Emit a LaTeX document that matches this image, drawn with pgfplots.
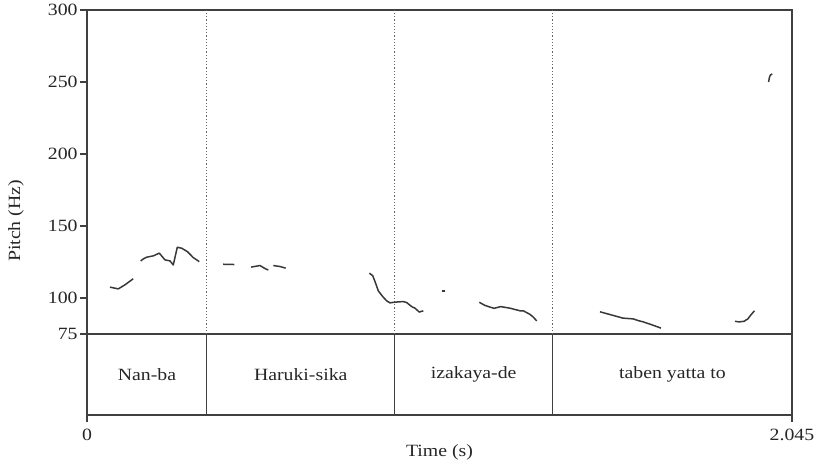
\documentclass[border=0pt]{standalone}
\usepackage{fontspec}
\setmainfont{Liberation Serif}[FakeStretch=1.15]
\usepackage{pgfplots}
\pgfplotsset{compat=1.18}
\definecolor{frame}{HTML}{404040}
\definecolor{curve}{HTML}{383838}
\newcommand{\lblfont}{\fontsize{8.6}{10}\selectfont}
\begin{document}
\begin{tikzpicture}
\useasboundingbox (-43.5pt,-25pt) rectangle (367pt,207.5pt);
\begin{axis}[
  at={(0,0)}, anchor=south west,
  scale only axis, width=352.5pt, height=202.5pt,
  xmin=0, xmax=2.045, ymin=19, ymax=300,
  axis line style={frame, line width=0.8pt},
  tick style={frame, line width=0.8pt},
  tick align=outside, major tick length=3.5pt,
  tick pos=left,
  ytick={75,100,150,200,250,300},
  xtick={0,2.045}, xticklabels={0,2.045},
  /pgf/number format/assume math mode=true,
  ticklabel style={font=\lblfont, text=black!85},
  yticklabel style={inner xsep=1pt},
  label style={font=\lblfont, text=black!85},
  xlabel={Time (s)},
  ylabel={Pitch (Hz)},
  xlabel style={at={(axis description cs:0.5,-0.0914)}, anchor=center},
  ylabel style={at={(axis description cs:-0.1007,0.479)}, anchor=center, rotate=0},
  clip=false,
  curv/.style={curve, line width=0.75pt, no markers, line join=round},
  bnd/.style={frame!80, line width=0.6pt, densely dotted, no markers},
  bnds/.style={frame, line width=0.6pt, no markers},
]
% tier line
\addplot[bnds, line width=0.8pt] coordinates {(0,75) (2.045,75)};
% boundaries
\addplot[bnd] coordinates {(0.3475,75) (0.3475,300)};
\addplot[bnd] coordinates {(0.892,75) (0.892,300)};
\addplot[bnd] coordinates {(1.351,75) (1.351,300)};
\addplot[bnds] coordinates {(0.3475,19) (0.3475,75)};
\addplot[bnds] coordinates {(0.892,19) (0.892,75)};
\addplot[bnds] coordinates {(1.351,19) (1.351,75)};
% pitch
\addplot[curv] coordinates {(0.0667,107.7) (0.0908,106.5) (0.110,109.3) (0.134,113.5)};
\addplot[curv] coordinates {(0.1558,125.9) (0.1633,127.3) (0.1732,128.5) (0.1923,129.4) (0.2097,131.3) (0.2263,126.6) (0.2408,125.9) (0.2503,123.1) (0.2619,135.4) (0.2747,134.7) (0.2909,132.4) (0.3083,128.2) (0.3258,125.4)};
\addplot[curv] coordinates {(0.395,123.6) (0.4272,123.4)};
\addplot[curv] coordinates {(0.4757,121.6) (0.5018,122.7) (0.5163,120.6) (0.5259,119.6)};
\addplot[curv] coordinates {(0.5404,122.7) (0.5598,122.0) (0.5764,120.9)};
\addplot[curv] coordinates {(0.8189,117.4) (0.8287,115.7) (0.8354,111.6) (0.845,105.1) (0.8577,101.2) (0.8693,98.2) (0.8789,96.8) (0.8934,97.3) (0.9175,97.7) (0.9274,97.0) (0.9419,94.2) (0.9515,93.1) (0.9639,90.4) (0.9755,91.3)};
\addplot[curv] coordinates {(1.0289,104.9) (1.0385,104.9)};
\addplot[curv] coordinates {(1.138,97.2) (1.1545,95.0) (1.1806,93.0) (1.2,94.2) (1.227,93.1) (1.256,91.3) (1.2656,91.3) (1.285,88.8) (1.2946,86.9) (1.3045,84.3)};
\addplot[curv] coordinates {(1.488,90.6) (1.52,88.5) (1.5548,86.2) (1.5838,85.7) (1.599,84.5) (1.6137,83.6) (1.638,81.6) (1.665,79.3)};
\addplot[curv] coordinates {(1.8797,84.0) (1.8913,83.6) (1.906,84.0) (1.917,85.7) (1.926,88.5) (1.936,91.3)};
\addplot[curv] coordinates {(1.977,250.0) (1.980,253.6) (1.983,255.0) (1.988,255.6)};
% tier labels
\node[font=\lblfont, text=black!85] at (axis cs:0.174,46.9) {Nan-ba};
\node[font=\lblfont, text=black!85] at (axis cs:0.620,46.9) {Haruki-sika};
\node[font=\lblfont, text=black!85] at (axis cs:1.1215,46.9) {izakaya-de};
\node[font=\lblfont, text=black!85] at (axis cs:1.698,46.9) {taben yatta to};
\end{axis}
\end{tikzpicture}
\end{document}
